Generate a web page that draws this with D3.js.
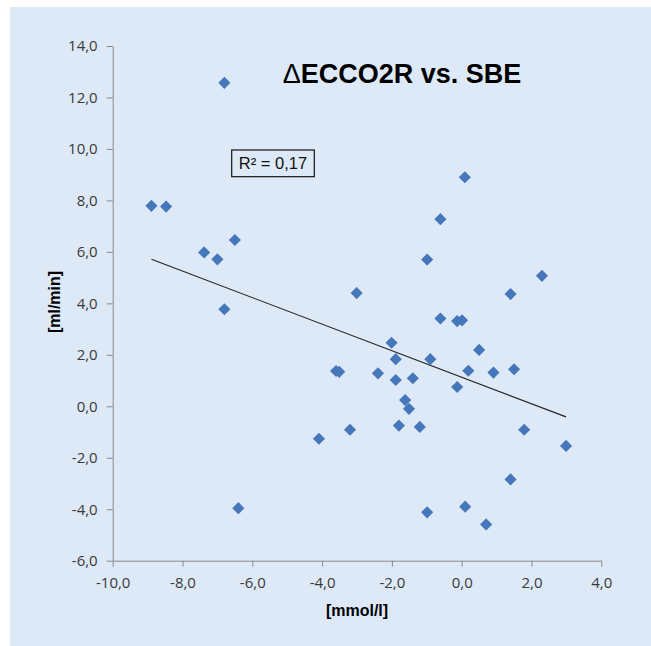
<!DOCTYPE html>
<html>
<head>
<meta charset="utf-8">
<script src="https://cdn.jsdelivr.net/npm/d3@7"></script>
<style>
  body { margin: 0; background: #fff; }
  svg { display: block; }
</style>
</head>
<body>
<div id="chart"></div>
<script>
// SBE [mmol/l] on x, delta ECCO2R [ml/min] on y
var sbe = [-8.89, -8.47, -6.80, -7.38, -7.00, -6.50, -6.80, -6.40, -4.09, -3.20,
  -3.01, -3.60, -3.51, -2.40, -2.01, -1.89, -1.89, -1.80, -1.62, -1.51,
  -1.40, -1.20, -0.99, -0.99, -0.90, -0.61, -0.61, -0.13, -0.13, 0.01,
  0.09, 0.10, 0.19, 0.50, 0.70, 0.91, 1.40, 1.40, 1.50, 1.79,
  2.30, 2.99];
var decco2r = [7.79, 7.76, 12.57, 5.98, 5.71, 6.46, 3.77, -3.96, -1.26, -0.91,
  4.40, 1.37, 1.34, 1.28, 2.47, 1.83, 1.02, -0.75, 0.24, -0.10,
  1.09, -0.80, -4.12, 5.70, 1.83, 7.27, 3.41, 0.75, 3.31, 3.34,
  8.90, -3.90, 1.38, 2.19, -4.59, 1.31, 4.36, -2.84, 1.44, -0.91,
  5.07, -1.54];
var xTicks = [-10, -8, -6, -4, -2, 0, 2, 4];
var yTicks = [-6, -4, -2, 0, 2, 4, 6, 8, 10, 12, 14];
var title = "ECCO2R vs. SBE";
var r2Label = "R² = 0,17";

var size = {
  width: 651,
  height: 646,
  left: 112.7,
  right: 601.3,
  top: 46,
  bottom: 560.7
};

var fmt = function (v) {
  return v.toFixed(1).replace(".", ",");
};

var dataset = [];
for (var i = 0; i < sbe.length; i++) {
  dataset.push({x: sbe[i], y: decco2r[i]});
}

var xScale = d3.scaleLinear().domain([-10, 4]).range([size.left, size.right]);
var yScale = d3.scaleLinear().domain([-6, 14]).range([size.bottom, size.top]);

var svg = d3.select("#chart")
  .append("svg")
  .attr("width", size.width)
  .attr("height", size.height);

svg.append("rect")
  .attr("x", 10)
  .attr("y", 7)
  .attr("width", size.width - 10)
  .attr("height", size.height - 7)
  .attr("fill", "#dde9f7");

var xAxis = d3.axisBottom(xScale).tickValues(xTicks).tickFormat(fmt).tickSizeInner(6).tickSizeOuter(0);
var yAxis = d3.axisLeft(yScale).tickValues(yTicks).tickFormat(fmt).tickSizeInner(6).tickSizeOuter(0);

var gx = svg.append("g")
  .attr("class", "axis")
  .attr("transform", "translate(0," + size.bottom + ")")
  .call(xAxis);

var gy = svg.append("g")
  .attr("class", "axis")
  .attr("transform", "translate(" + size.left + ",0)")
  .call(yAxis);

[gx, gy].forEach(function (g) {
  g.select(".domain").attr("stroke", "#8a8a8a");
  g.selectAll(".tick line").attr("stroke", "#8a8a8a");
  g.selectAll(".tick text")
    .attr("fill", "#3a3a3a")
    .style("font-family", "'Open Sans', sans-serif")
    .style("font-size", "15px");
});
gx.selectAll(".tick text").attr("dy", "1.25em");
gy.selectAll(".tick text").attr("x", -15);

// linear trend (least squares)
var mx = d3.mean(dataset, function (d) { return d.x; });
var my = d3.mean(dataset, function (d) { return d.y; });
var sxy = d3.sum(dataset, function (d) { return (d.x - mx) * (d.y - my); });
var sxx = d3.sum(dataset, function (d) { return (d.x - mx) * (d.x - mx); });
var slope = sxy / sxx;
var intercept = my - slope * mx;
var xExt = d3.extent(dataset, function (d) { return d.x; });

svg.append("line")
  .attr("x1", xScale(xExt[0]))
  .attr("y1", yScale(intercept + slope * xExt[0]))
  .attr("x2", xScale(xExt[1]))
  .attr("y2", yScale(intercept + slope * xExt[1]))
  .attr("stroke", "#222")
  .attr("stroke-width", 1.1);

var diamond = d3.symbol().type(d3.symbolSquare).size(74);

svg.selectAll(".pt")
  .data(dataset)
  .enter()
  .append("path")
  .attr("class", "pt")
  .attr("d", diamond)
  .attr("transform", function (d) {
    return "translate(" + xScale(d.x) + "," + yScale(d.y) + ") rotate(45)";
  })
  .attr("fill", "#4677bb");

// title
var t = svg.append("text")
  .attr("x", 402)
  .attr("y", 83)
  .attr("text-anchor", "middle")
  .style("font-family", "'Liberation Sans', Arial, sans-serif")
  .style("font-size", "27px")
  .style("font-weight", "bold")
  .attr("fill", "#000");
t.append("tspan").style("font-weight", "normal").text("Δ");
t.append("tspan").text(title);

// R² box
svg.append("rect")
  .attr("x", 231.7)
  .attr("y", 150)
  .attr("width", 82.6)
  .attr("height", 26.7)
  .attr("fill", "none")
  .attr("stroke", "#111")
  .attr("stroke-width", 1.2);

svg.append("text")
  .attr("x", 273)
  .attr("y", 169)
  .attr("text-anchor", "middle")
  .style("font-family", "'Liberation Sans', Arial, sans-serif")
  .style("font-size", "16.5px")
  .attr("fill", "#111")
  .text(r2Label);

// axis titles
svg.append("text")
  .attr("x", 357)
  .attr("y", 616)
  .attr("text-anchor", "middle")
  .style("font-family", "'Liberation Sans', Arial, sans-serif")
  .style("font-size", "16px")
  .style("font-weight", "bold")
  .text("[mmol/l]");

svg.append("text")
  .attr("transform", "translate(60,302) rotate(-90)")
  .attr("text-anchor", "middle")
  .style("font-family", "'Liberation Sans', Arial, sans-serif")
  .style("font-size", "16px")
  .style("font-weight", "bold")
  .text("[ml/min]");
</script>
</body>
</html>
